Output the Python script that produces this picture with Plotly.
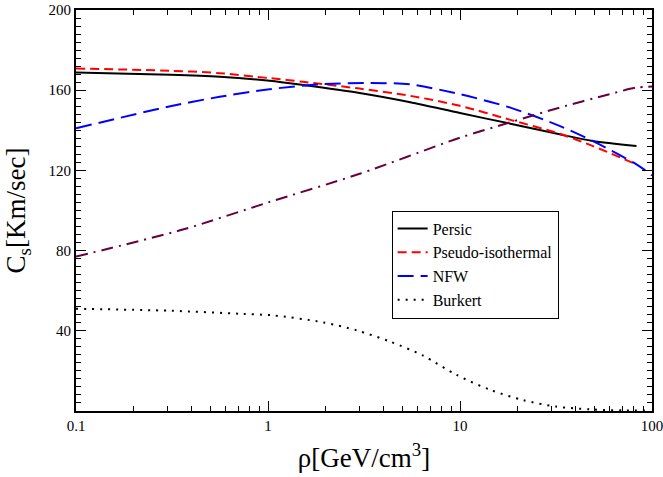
import plotly.graph_objects as go

# Persic (solid black)
persic_x = [0.1, 0.31, 0.56, 1.02, 1.52, 3.0, 5.5, 10, 18.3, 33, 49, 83]
persic_y = [168.8, 167.7, 166.7, 164.7, 162.6, 158.6, 154.0, 148.6, 143.3, 138.0, 134.7, 132.2]

# Pseudo-isothermal (red dashed)
pseudo_x = [0.1, 0.31, 0.56, 1.02, 1.52, 3.0, 5.5, 10, 18.3, 33, 49, 83]
pseudo_y = [170.8, 169.7, 168.5, 166.0, 164.2, 160.8, 157.2, 152.2, 145.2, 138.3, 132.2, 123.0]

# NFW (blue long dashed)
nfw_x = [0.1, 0.31, 0.56, 1.02, 1.9, 3.4, 5.5, 10, 18.3, 33, 49, 83, 100]
nfw_y = [141.0, 152.0, 156.7, 160.5, 163.0, 163.6, 162.9, 158.0, 151.3, 142.2, 134.7, 123.0, 117.5]

# Burkert (dotted black)
burkert_x = [0.1, 0.31, 0.715, 1.06, 1.94, 2.9, 4.3, 6.4, 9.6, 14.4, 21.2, 31.7, 47.7, 70.7, 98]
burkert_y = [51.0, 50.0, 48.5, 47.7, 44.2, 40.2, 34.7, 27.7, 18.0, 10.5, 5.5, 2.2, 0.8, 0.3, 0.2]

# Unlabelled dash-dot curve (dark purple)
other_x = [0.1, 0.36, 1.0, 3.0, 10, 18.3, 33, 60, 83, 100]
other_y = [77.0, 90.5, 104.0, 118.3, 136.3, 144.0, 151.3, 158.0, 161.3, 161.8]

y_ticks = [40, 80, 120, 160, 200]
x_ticks = [0.1, 1, 10, 100]
x_ticktext = ["0.1", "1", "10", "100"]
x_minor = [m * 10.0 ** e for e in (-1, 0, 1) for m in range(2, 10)]

fig = go.Figure()
fig.add_trace(go.Scatter(x=persic_x, y=persic_y, mode="lines", name="Persic",
                         line=dict(color="black", width=2, shape="spline", smoothing=0.8)))
fig.add_trace(go.Scatter(x=pseudo_x, y=pseudo_y, mode="lines", name="Pseudo-isothermal",
                         line=dict(color="red", width=2, dash="9px,5px", shape="spline", smoothing=0.8)))
fig.add_trace(go.Scatter(x=nfw_x, y=nfw_y, mode="lines", name="NFW",
                         line=dict(color="blue", width=2, dash="16px,7px", shape="spline", smoothing=0.8)))
fig.add_trace(go.Scatter(x=burkert_x, y=burkert_y, mode="lines", name="Burkert",
                         line=dict(color="black", width=2, dash="2px,6px", shape="spline", smoothing=0.8)))
fig.add_trace(go.Scatter(x=other_x, y=other_y, mode="lines", showlegend=False,
                         line=dict(color="#66003f", width=2, dash="12px,6px,2px,6px", shape="spline", smoothing=0.8)))

serif = "Liberation Serif"

fig.update_layout(
    width=663, height=477,
    margin=dict(l=76, r=11, t=10, b=66, autoexpand=False),
    paper_bgcolor="white", plot_bgcolor="white",
    font=dict(family=serif, color="black", size=15),
    legend=dict(x=0.548, y=0.5, xanchor="left", yanchor="top",
                bgcolor="white", bordercolor="black", borderwidth=1,
                font=dict(family=serif, size=16, color="black"), itemwidth=30,
                tracegroupgap=0),
)
fig.update_xaxes(type="log", range=[-1, 2], tickmode="array", tickvals=x_ticks, ticktext=x_ticktext,
                 ticks="inside", ticklen=10, tickwidth=1, tickcolor="black",
                 showline=True, linecolor="black", linewidth=2, mirror="ticks",
                 showgrid=False, zeroline=False, automargin=False, ticklabeloverflow="allow",
                 tickfont=dict(family=serif, size=15, color="black"),
                 minor=dict(tickmode="array", tickvals=x_minor, ticks="inside", ticklen=5,
                            tickcolor="black", showgrid=False),
                 title=dict(text="ρ[GeV/cm<sup>3</sup>]", font=dict(family=serif, size=27, color="black")))
fig.update_yaxes(range=[0, 200], tickmode="array", tickvals=y_ticks,
                 ticks="inside", ticklen=10, tickwidth=1, tickcolor="black",
                 showline=True, linecolor="black", linewidth=2, mirror="ticks",
                 showgrid=False, zeroline=False, automargin=False, ticklabeloverflow="allow",
                 tickfont=dict(family=serif, size=15, color="black"),
                 minor=dict(dtick=4, tick0=0, ticks="inside", ticklen=5, tickcolor="black", showgrid=False),
                 title=dict(text="C<sub>s</sub>[Km/sec]", font=dict(family=serif, size=27, color="black")))

fig.write_html("out.html")
